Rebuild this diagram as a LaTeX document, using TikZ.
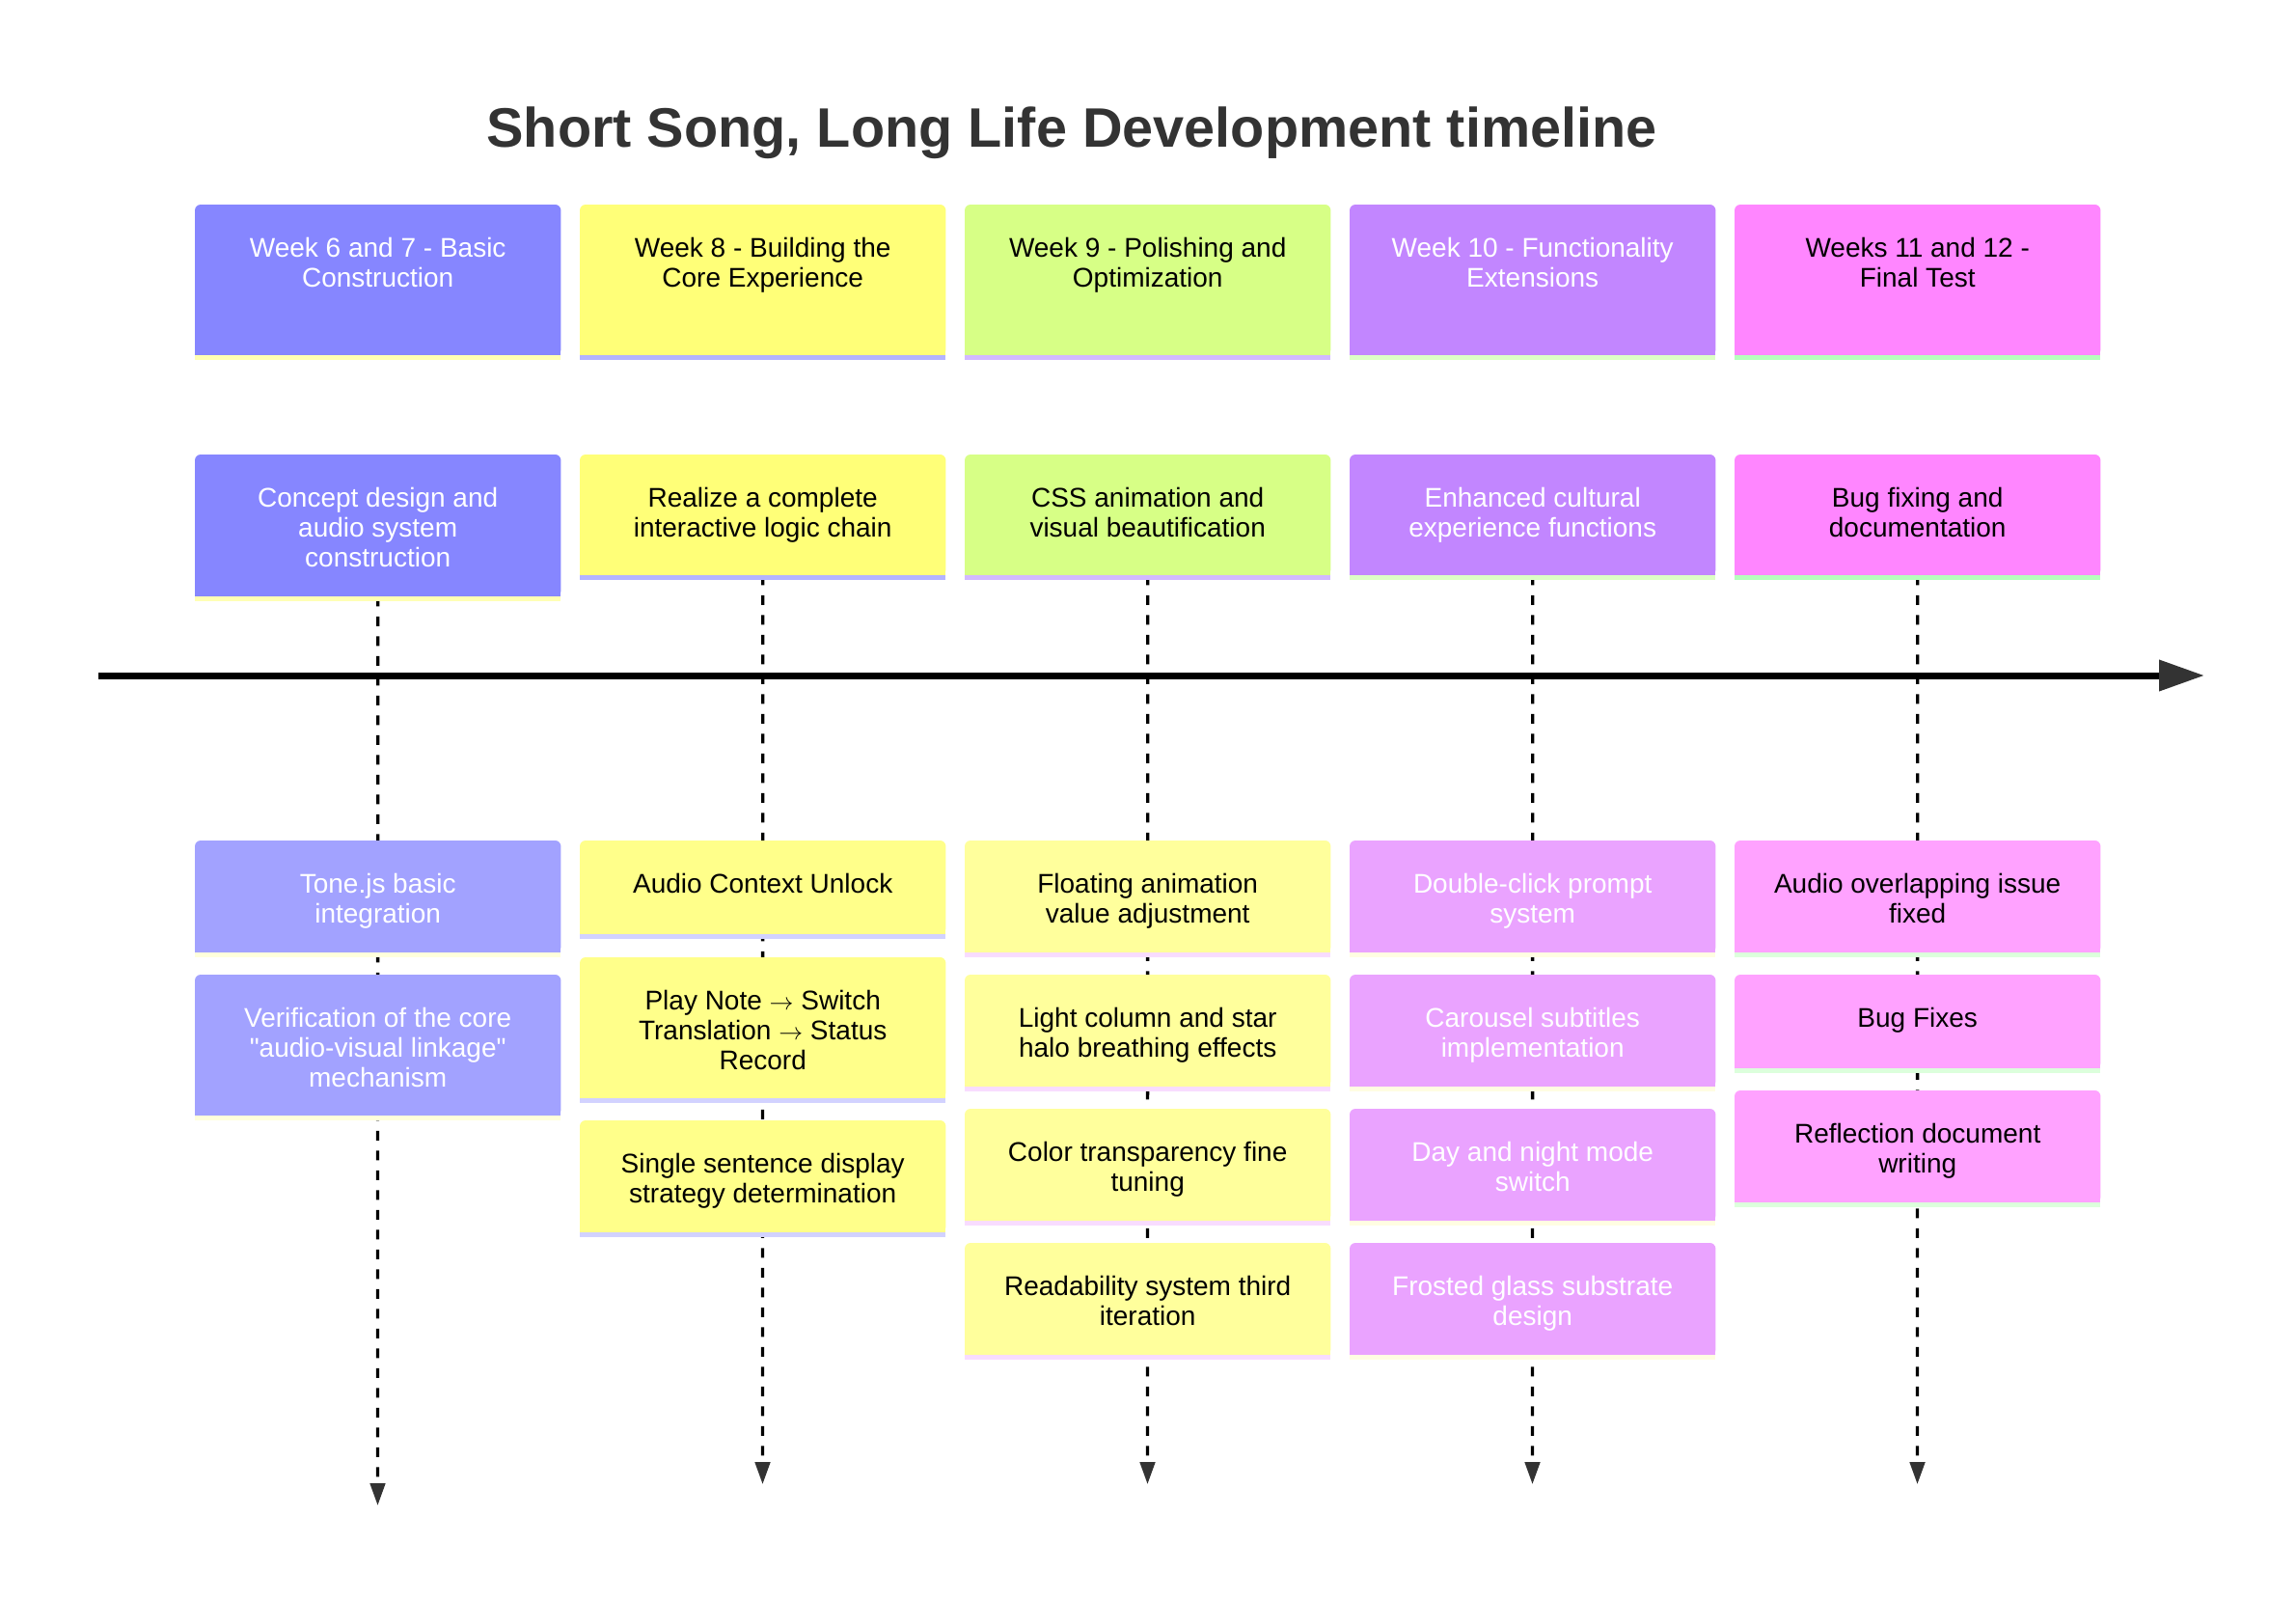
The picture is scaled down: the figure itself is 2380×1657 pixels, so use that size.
\documentclass[tikz,border=0pt]{standalone}
\usepackage{fontspec}
\newfontfamily\tlfont{Liberation Sans}
\usetikzlibrary{arrows.meta,positioning,backgrounds}

\definecolor{hdrA}{HTML}{8686FF}
\definecolor{hdrB}{HTML}{FFFF78}
\definecolor{hdrC}{HTML}{D7FF86}
\definecolor{hdrD}{HTML}{C286FF}
\definecolor{hdrE}{HTML}{FF86FF}
\definecolor{evtA}{HTML}{A2A2FF}
\definecolor{evtB}{HTML}{FFFF8A}
\definecolor{evtC}{HTML}{FFFF9C}
\definecolor{evtD}{HTML}{EAA3FF}
\definecolor{evtE}{HTML}{FFA2FF}
\definecolor{barA}{HTML}{FFFFB4}
\definecolor{barB}{HTML}{B4B4FF}
\definecolor{barC}{HTML}{D2BAFF}
\definecolor{barD}{HTML}{DDFFC6}
\definecolor{barE}{HTML}{B6FFBC}
\definecolor{lineA}{HTML}{FFFFDC}
\definecolor{lineB}{HTML}{D2D2FF}
\definecolor{lineC}{HTML}{F8DCFF}
\definecolor{lineD}{HTML}{FFFDE2}
\definecolor{lineE}{HTML}{DCFFDC}
\definecolor{tipgray}{HTML}{333333}

\tikzset{
  cardbox/.style={rectangle, inner sep=0pt, minimum width=379pt, anchor=north west},
  cardtext/.style={align=center, inner sep=0pt, font=\tlfont\fontsize{28}{31}\selectfont},
  timeaxis/.style={line width=7pt, draw=black, -{Triangle[length=47pt,width=31pt,color=tipgray]}},
  stem/.style={line width=3.3pt, dash pattern=on 10pt off 10.5pt, -{Triangle[length=23pt,width=15.5pt,color=tipgray]}}
}

% card: name, left, top, height, fill, bar, text colour, text
\newcommand{\tlcard}[8]{%
\node[cardbox, minimum height=#4pt] (#1) at (#2,#3) {};
\fill[#5, rounded corners=6pt] (#1.north west) rectangle (#1.south east);
\fill[#5] ([yshift=-10pt]#1.north west) rectangle (#1.south east);
\fill[#6] (#1.south west) rectangle ([yshift=-5pt]#1.south east);
\node[cardtext, text=#7, below=32.8pt of #1.north] (#1t) {\strut #8};
}

\begin{document}
\begin{tikzpicture}[x=1pt, y=-1pt]

\useasboundingbox (0,0) rectangle (2380,1657);

\node[font=\tlfont\bfseries\fontsize{57.6}{69}\selectfont, text=tipgray, anchor=base] (title) at (1111,152) {Short Song, Long Life Development timeline};

% weeks
\tlcard{h1}{202}{212}{156}{hdrA}{barA}{white}{Week 6 and 7 - Basic\\Construction}
\tlcard{h2}{601}{212}{156}{hdrB}{barB}{black}{Week 8 - Building the\\Core Experience}
\tlcard{h3}{1000}{212}{156}{hdrC}{barC}{black}{Week 9 - Polishing and\\Optimization}
\tlcard{h4}{1399}{212}{156}{hdrD}{barD}{white}{Week 10 - Functionality\\Extensions}
\tlcard{h5}{1798}{212}{156}{hdrE}{barE}{black}{Weeks 11 and 12 -\\Final Test}

% periods
\tlcard{p1}{202}{471}{147}{hdrA}{barA}{white}{Concept design and\\audio system\\construction}
\tlcard{p2}{601}{471}{125}{hdrB}{barB}{black}{Realize a complete\\interactive logic chain}
\tlcard{p3}{1000}{471}{125}{hdrC}{barC}{black}{CSS animation and\\visual beautification}
\tlcard{p4}{1399}{471}{125}{hdrD}{barD}{white}{Enhanced cultural\\experience functions}
\tlcard{p5}{1798}{471}{125}{hdrE}{barE}{black}{Bug fixing and\\documentation}

% events
\tlcard{e1a}{202}{871}{116}{evtA}{lineA}{white}{Tone.js basic\\integration}
\tlcard{e1b}{202}{1010}{146}{evtA}{lineA}{white}{Verification of the core\\"audio-visual linkage"\\mechanism}

\tlcard{e2a}{601}{871}{97}{evtB}{lineB}{black}{Audio Context Unlock}
\tlcard{e2b}{601}{992}{146}{evtB}{lineB}{black}{Play Note $\rightarrow$ Switch\\Translation $\rightarrow$ Status\\Record}
\tlcard{e2c}{601}{1161}{116}{evtB}{lineB}{black}{Single sentence display\\strategy determination}

\tlcard{e3a}{1000}{871}{116}{evtC}{lineC}{black}{Floating animation\\value adjustment}
\tlcard{e3b}{1000}{1010}{116}{evtC}{lineC}{black}{Light column and star\\halo breathing effects}
\tlcard{e3c}{1000}{1149}{116}{evtC}{lineC}{black}{Color transparency fine\\tuning}
\tlcard{e3d}{1000}{1288}{116}{evtC}{lineC}{black}{Readability system third\\iteration}

\tlcard{e4a}{1399}{871}{116}{evtD}{lineD}{white}{Double-click prompt\\system}
\tlcard{e4b}{1399}{1010}{116}{evtD}{lineD}{white}{Carousel subtitles\\implementation}
\tlcard{e4c}{1399}{1149}{116}{evtD}{lineD}{white}{Day and night mode\\switch}
\tlcard{e4d}{1399}{1288}{116}{evtD}{lineD}{white}{Frosted glass substrate\\design}

\tlcard{e5a}{1798}{871}{116}{evtE}{lineE}{black}{Audio overlapping issue\\fixed}
\tlcard{e5b}{1798}{1010}{97}{evtE}{lineE}{black}{Bug Fixes}
\tlcard{e5c}{1798}{1130}{116}{evtE}{lineE}{black}{Reflection document\\writing}

% time axis
\coordinate (axis0) at (102,700);
\coordinate (axis1) at (2285,700);
\draw[timeaxis] (axis0) -- (axis1);

\coordinate (end1) at (391.5,1560);
\coordinate (end2) at (790.5,1538);
\coordinate (end3) at (1189.5,1538);
\coordinate (end4) at (1588.5,1538);
\coordinate (end5) at (1987.5,1538);

\begin{scope}[on background layer]
\draw[stem] (p1.south) -- (end1);
\draw[stem] (p2.south) -- (end2);
\draw[stem] (p3.south) -- (end3);
\draw[stem] (p4.south) -- (end4);
\draw[stem] (p5.south) -- (end5);
\end{scope}

\end{tikzpicture}
\end{document}
